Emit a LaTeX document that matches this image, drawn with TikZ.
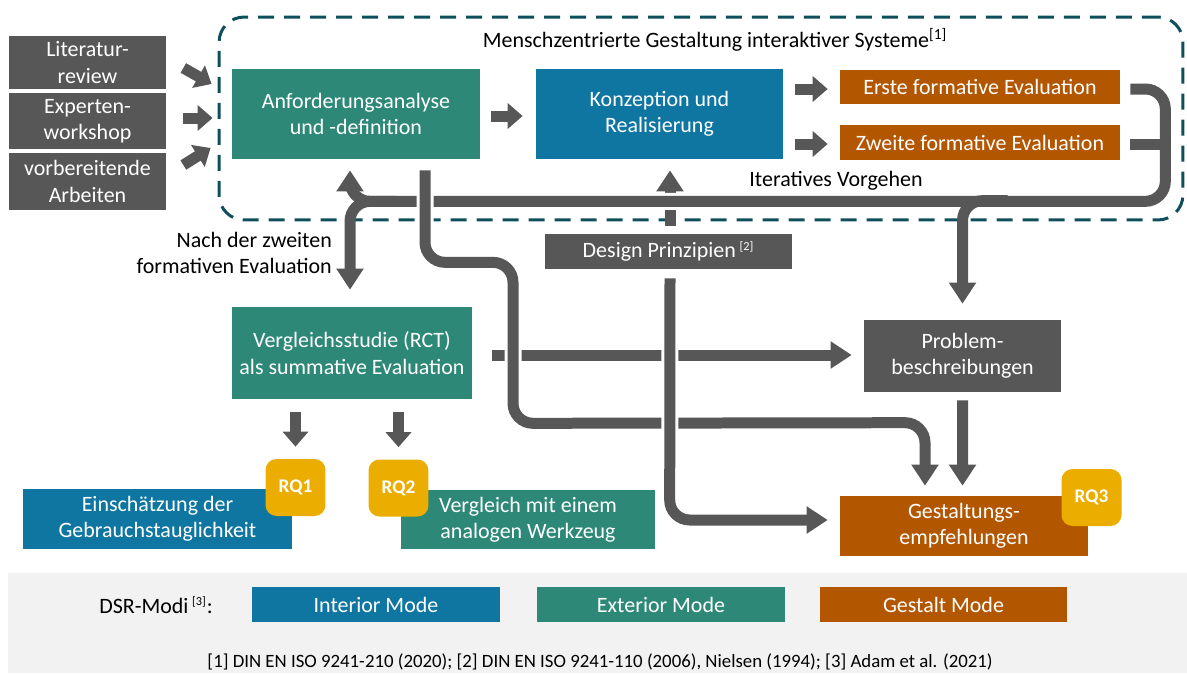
\documentclass[tikz,border=0pt]{standalone}
\usepackage{fontspec}
\setmainfont{Carlito}
\usetikzlibrary{arrows.meta,calc}

\definecolor{dgray}{HTML}{575757}
\definecolor{dteal}{HTML}{2D8878}
\definecolor{dblue}{HTML}{0E76A0}
\definecolor{dorange}{HTML}{B35600}
\definecolor{dyellow}{HTML}{EBAE00}
\definecolor{dframe}{HTML}{0F4E5B}
\definecolor{dlegend}{HTML}{F2F2F2}

\tikzset{
  box/.style={rectangle,text=white,align=center,inner sep=0pt,font=\fontsize{12.5}{15}\selectfont},
  rq/.style={rectangle,rounded corners=0.22cm,fill=dyellow,text=white,font=\bfseries\fontsize{11}{13}\selectfont,minimum width=1.2cm,minimum height=1.14cm},
  blk/.style={draw=dgray,line width=0.22cm,-{Triangle[width=0.5cm,length=0.3cm]}},
  flow/.style={draw=dgray,line width=0.22cm,rounded corners=0.4cm,-{Triangle[width=0.52cm,length=0.42cm]}},
  over/.style={preaction={draw=white,line width=0.34cm,-}},
  lbl/.style={font=\fontsize{12.5}{15}\selectfont}
}

\begin{document}
\begin{tikzpicture}[x=0.02cm,y=-0.02cm]
\useasboundingbox (0,0) rectangle (1187,673);
\fill[dlegend] (8,573) rectangle (1187,673);

% frame
\node[draw=dframe,line width=0.06cm,dash pattern=on 0.32cm off 0.2cm,rounded corners=0.5cm,minimum width=19.28cm,minimum height=4.06cm] (frame) at (701,118.5) {};
\node[lbl] (title) at (715,40) {Menschzentrierte Gestaltung interaktiver Systeme\textsuperscript{[1]}};

% inputs
\node[box,fill=dgray,minimum width=3.14cm,minimum height=1.06cm] (lit) at (87.5,62.5) {Literatur-\\review};
\node[box,fill=dgray,minimum width=3.14cm,minimum height=1.12cm] (exp) at (87.5,121) {Experten-\\workshop};
\node[box,fill=dgray,minimum width=3.14cm,minimum height=1.14cm] (vor) at (87.5,181.5) {vorbereitende\\Arbeiten};

% boxes
\node[box,fill=dteal,minimum width=4.96cm,minimum height=1.8cm] (anf) at (356,114) {Anforderungsanalyse\\und -definition};
\node[box,fill=dblue,minimum width=4.94cm,minimum height=1.8cm] (konz) at (659.5,114) {Konzeption und\\Realisierung};
\node[box,fill=dorange,minimum width=5.6cm,minimum height=0.68cm] (erste) at (980,87) {Erste formative Evaluation};
\node[box,fill=dorange,minimum width=5.6cm,minimum height=0.7cm] (zweite) at (980,142.5) {Zweite formative Evaluation};
\node[box,fill=dgray,minimum width=4.94cm,minimum height=0.7cm] (design) at (668.5,251.5) {Design Prinzipien\,\textsuperscript{\scriptsize[2]}};
\node[box,fill=dteal,minimum width=4.8cm,minimum height=1.84cm] (vgl) at (352,353) {Vergleichsstudie (RCT)\\als summative Evaluation};
\node[box,fill=dgray,minimum width=3.94cm,minimum height=1.44cm] (prob) at (962.5,356) {Problem-\\beschreibungen};
\node[box,fill=dorange,minimum width=4.96cm,minimum height=1.2cm] (gest) at (964,526) {Gestaltungs-\\empfehlungen};
\node[box,fill=dblue,minimum width=5.38cm,minimum height=1.2cm] (einsch) at (157.5,519) {Einschätzung der\\Gebrauchstauglichkeit};
\node[box,fill=dteal,minimum width=5.08cm,minimum height=1.18cm] (vglw) at (528,519.5) {Vergleich mit einem\\analogen Werkzeug};
\node[rq] (rq1) at (295.5,487.5) {RQ1};
\node[rq] (rq2) at (398.5,488) {RQ2};
\node[rq] (rq3) at (1091.5,497.5) {RQ3};

\node[lbl] (iter) at (836,181) {Iteratives Vorgehen};
\node[lbl,align=right,anchor=east] (nach) at (338,253) {Nach der zweiten\\formativen Evaluation};

% legend
\node[lbl] (dsr) at (156,605) {DSR-Modi\,\textsuperscript{\scriptsize[3]}:};
\node[box,fill=dblue,minimum width=4.96cm,minimum height=0.7cm] (interior) at (376,604.5) {Interior Mode};
\node[box,fill=dteal,minimum width=4.96cm,minimum height=0.7cm] (exterior) at (661,604.5) {Exterior Mode};
\node[box,fill=dorange,minimum width=4.94cm,minimum height=0.7cm] (gestalt) at (943.5,604.5) {Gestalt Mode};
\node[font=\fontsize{10.7}{12}\selectfont] (refs) at (600,662) {[1] DIN EN ISO 9241-210 (2020); [2] DIN EN ISO 9241-110 (2006), Nielsen (1994); [3] Adam et al. (2021)};

% short arrows
\draw[blk] ($(lit.east)+(17,5.5)$) -- ($(frame.west)+(-6,-34.5)$);
\draw[blk] ($(exp.east)+(17,-3)$) -- ($(frame.west)+(-5,-0.5)$);
\draw[blk] ($(vor.east)+(17,-16.5)$) -- ($(frame.west)+(-7,29.5)$);
\draw[blk] ($(anf.east)+(11,2)$) -- ($(konz.west)+(-13,2)$);
\draw[blk] ($(konz.east |- erste.west)+(12,2)$) -- ($(erste.west)+(-12,2)$);
\draw[blk] ($(konz.east |- zweite.west)+(12,1.5)$) -- ($(zweite.west)+(-12,1.5)$);
\draw[blk] ($(vgl.south -| rq1.north)+(0,13)$) -- ($(rq1.north)+(0,-12)$);
\draw[blk] ($(vgl.south -| rq2.north)+(0,13)$) -- ($(rq2.north)+(0,-12)$);

% long connectors
\draw[flow] ($(design.north)+(1.5,-8)$) -- ($(konz.south)+(10.5,11)$);
\draw[flow] ($(vgl.east)+(20,2)$) -- ($(prob.west)+(-12,-1)$);
\draw[flow,over] ($(erste.east)+(10,2)$) -- ++(35,0) |- ($(anf.south)+(-6,42)$) -- ($(anf.south)+(-6,11)$);
\draw[flow] ($(anf.south)+(40,42)$) -- ($(anf.south)+(-6,42)$) -- ($(vgl.north)+(-2,-17)$);
\draw[flow] ($(prob.north)+(45,-119)$) -- ($(prob.north)+(0,-119)$) -- ($(prob.north)+(0,-16)$);
\draw[draw=dgray,line width=0.22cm] ($(zweite.east)+(10,1.5)$) -- ++(35,0);
\draw[flow] ($(prob.south)+(0,8)$) -- ($(gest.north)+(-1.5,-10)$);
\draw[flow,over] ($(anf.south)+(69,11)$) -- ($(anf.south)+(69,103)$) -- ($(anf.south)+(157,103)$) -- ($(anf.south)+(157,264)$) -- ($(gest.north)+(-39,-73)$) -- ($(gest.north)+(-39,-10)$);
\draw[flow,over] ($(design.south)+(1.5,9)$) -- ($(gest.west)+(-170,-6)$) -- ($(gest.west)+(-12,-6)$);
\end{tikzpicture}
\end{document}
